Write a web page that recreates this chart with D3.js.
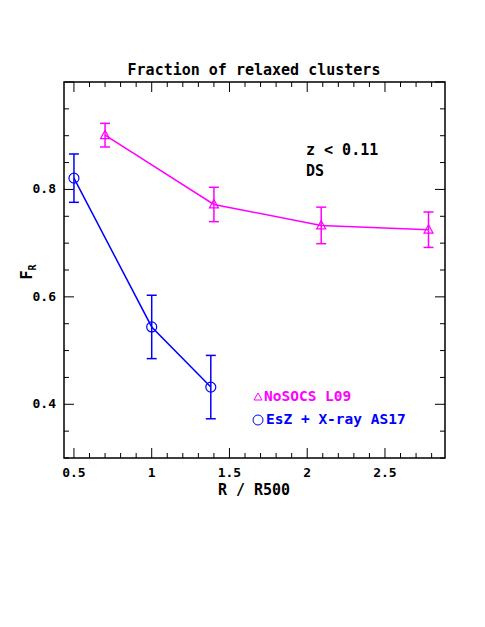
<!DOCTYPE html><html><head><script src="https://cdn.jsdelivr.net/npm/d3@7"></script>
<style>body{margin:0;background:#fff}text{font-family:"DejaVu Sans Mono",monospace;font-weight:bold}</style></head><body>
<svg id="c" width="485" height="627"></svg>
<script>
const magX=[0.7,1.4,2.09,2.78], magY=[0.901,0.772,0.733,0.725], magE=[0.022,0.032,0.034,0.033];
const bluX=[0.5,1.0,1.38], bluY=[0.821,0.544,0.432], bluE=[0.045,0.059,0.059];
const xTicks=[0.5,1,1.5,2,2.5], xTickLabels=["0.5","1","1.5","2","2.5"];
const yTicks=[0.4,0.6,0.8], yTickLabels=["0.4","0.6","0.8"];
const L=64,R=445,T=82,B=458;
const x=d3.scaleLinear().domain([0.436,2.886]).range([L,R]);
const y=d3.scaleLinear().domain([0.3,1.0]).range([B,T]);
const s=d3.select("#c");
s.append("rect").attr("x",L).attr("y",T).attr("width",R-L).attr("height",B-T).attr("fill","none").attr("stroke","#000").attr("stroke-width",1.5);
const g=s.append("g").attr("stroke","#000").attr("stroke-width",1);
d3.range(0.5,2.9,0.1).forEach(v=>{const X=x(v),big=Math.abs(v*2-Math.round(v*2))<1e-6,l=big?10:5;
 g.append("line").attr("x1",X).attr("x2",X).attr("y1",B).attr("y2",B-l);
 g.append("line").attr("x1",X).attr("x2",X).attr("y1",T).attr("y2",T+l);});
d3.range(0.3,1.0001,0.05).forEach(v=>{const Y=y(v),big=Math.abs(v*10-Math.round(v*10))<1e-6&&Math.round(v*10)%2==0,l=big?10:5;
 g.append("line").attr("y1",Y).attr("y2",Y).attr("x1",L).attr("x2",L+l);
 g.append("line").attr("y1",Y).attr("y2",Y).attr("x1",R).attr("x2",R-l);});
xTicks.forEach((v,i)=>s.append("text").attr("x",x(v)).attr("y",B+19).attr("text-anchor","middle").attr("font-size",13).text(xTickLabels[i]));
yTicks.forEach((v,i)=>s.append("text").attr("x",L-8).attr("y",y(v)+4).attr("text-anchor","end").attr("font-size",13).text(yTickLabels[i]));
s.append("text").attr("x",254).attr("y",75).attr("text-anchor","middle").attr("font-size",15).text("Fraction of relaxed clusters");
s.append("text").attr("x",254).attr("y",495).attr("text-anchor","middle").attr("font-size",15).text("R / R500");
const yl=s.append("text").attr("transform","translate(32,272) rotate(-90)").attr("text-anchor","middle").attr("font-size",15);
yl.append("tspan").text("F");yl.append("tspan").attr("font-size",10).attr("dy",4).text("R");
s.append("text").attr("x",306).attr("y",155).attr("font-size",15).text("z < 0.11");
s.append("text").attr("x",306).attr("y",176).attr("font-size",15).text("DS");
function series(X,Y,E,col,tri){
 const line=d3.line().x((d,i)=>x(X[i])).y(d=>y(d));
 s.append("path").attr("d",line(Y)).attr("fill","none").attr("stroke",col).attr("stroke-width",1.5);
 Y.forEach((v,i)=>{const cx=x(X[i]);
  s.append("line").attr("x1",cx).attr("x2",cx).attr("y1",y(v-E[i])).attr("y2",y(v+E[i])).attr("stroke",col).attr("stroke-width",1.5);
  [v-E[i],v+E[i]].forEach(e=>s.append("line").attr("x1",cx-5).attr("x2",cx+5).attr("y1",y(e)).attr("y2",y(e)).attr("stroke",col).attr("stroke-width",1.5));
  if(tri)s.append("path").attr("d",`M${cx},${y(v)-5}L${cx+4.5},${y(v)+3.5}L${cx-4.5},${y(v)+3.5}Z`).attr("fill","none").attr("stroke",col).attr("stroke-width",1.2);
  else s.append("circle").attr("cx",cx).attr("cy",y(v)).attr("r",5).attr("fill","none").attr("stroke",col).attr("stroke-width",1.2);});
}
series(magX,magY,magE,"#ff00ff",true);
series(bluX,bluY,bluE,"#0000ff",false);
s.append("path").attr("d","M254,400L258,393L262,400Z").attr("fill","none").attr("stroke","#ff00ff");
s.append("text").attr("x",264).attr("y",401).attr("font-size",14.5).attr("font-weight","normal").attr("fill","#ff00ff").text("NoSOCS L09");
s.append("circle").attr("cx",258).attr("cy",420).attr("r",5).attr("fill","none").attr("stroke","#0000ff");
s.append("text").attr("x",266).attr("y",424).attr("font-size",14.5).attr("font-weight","normal").attr("fill","#0000ff").text("EsZ + X-ray AS17");
</script></body></html>
